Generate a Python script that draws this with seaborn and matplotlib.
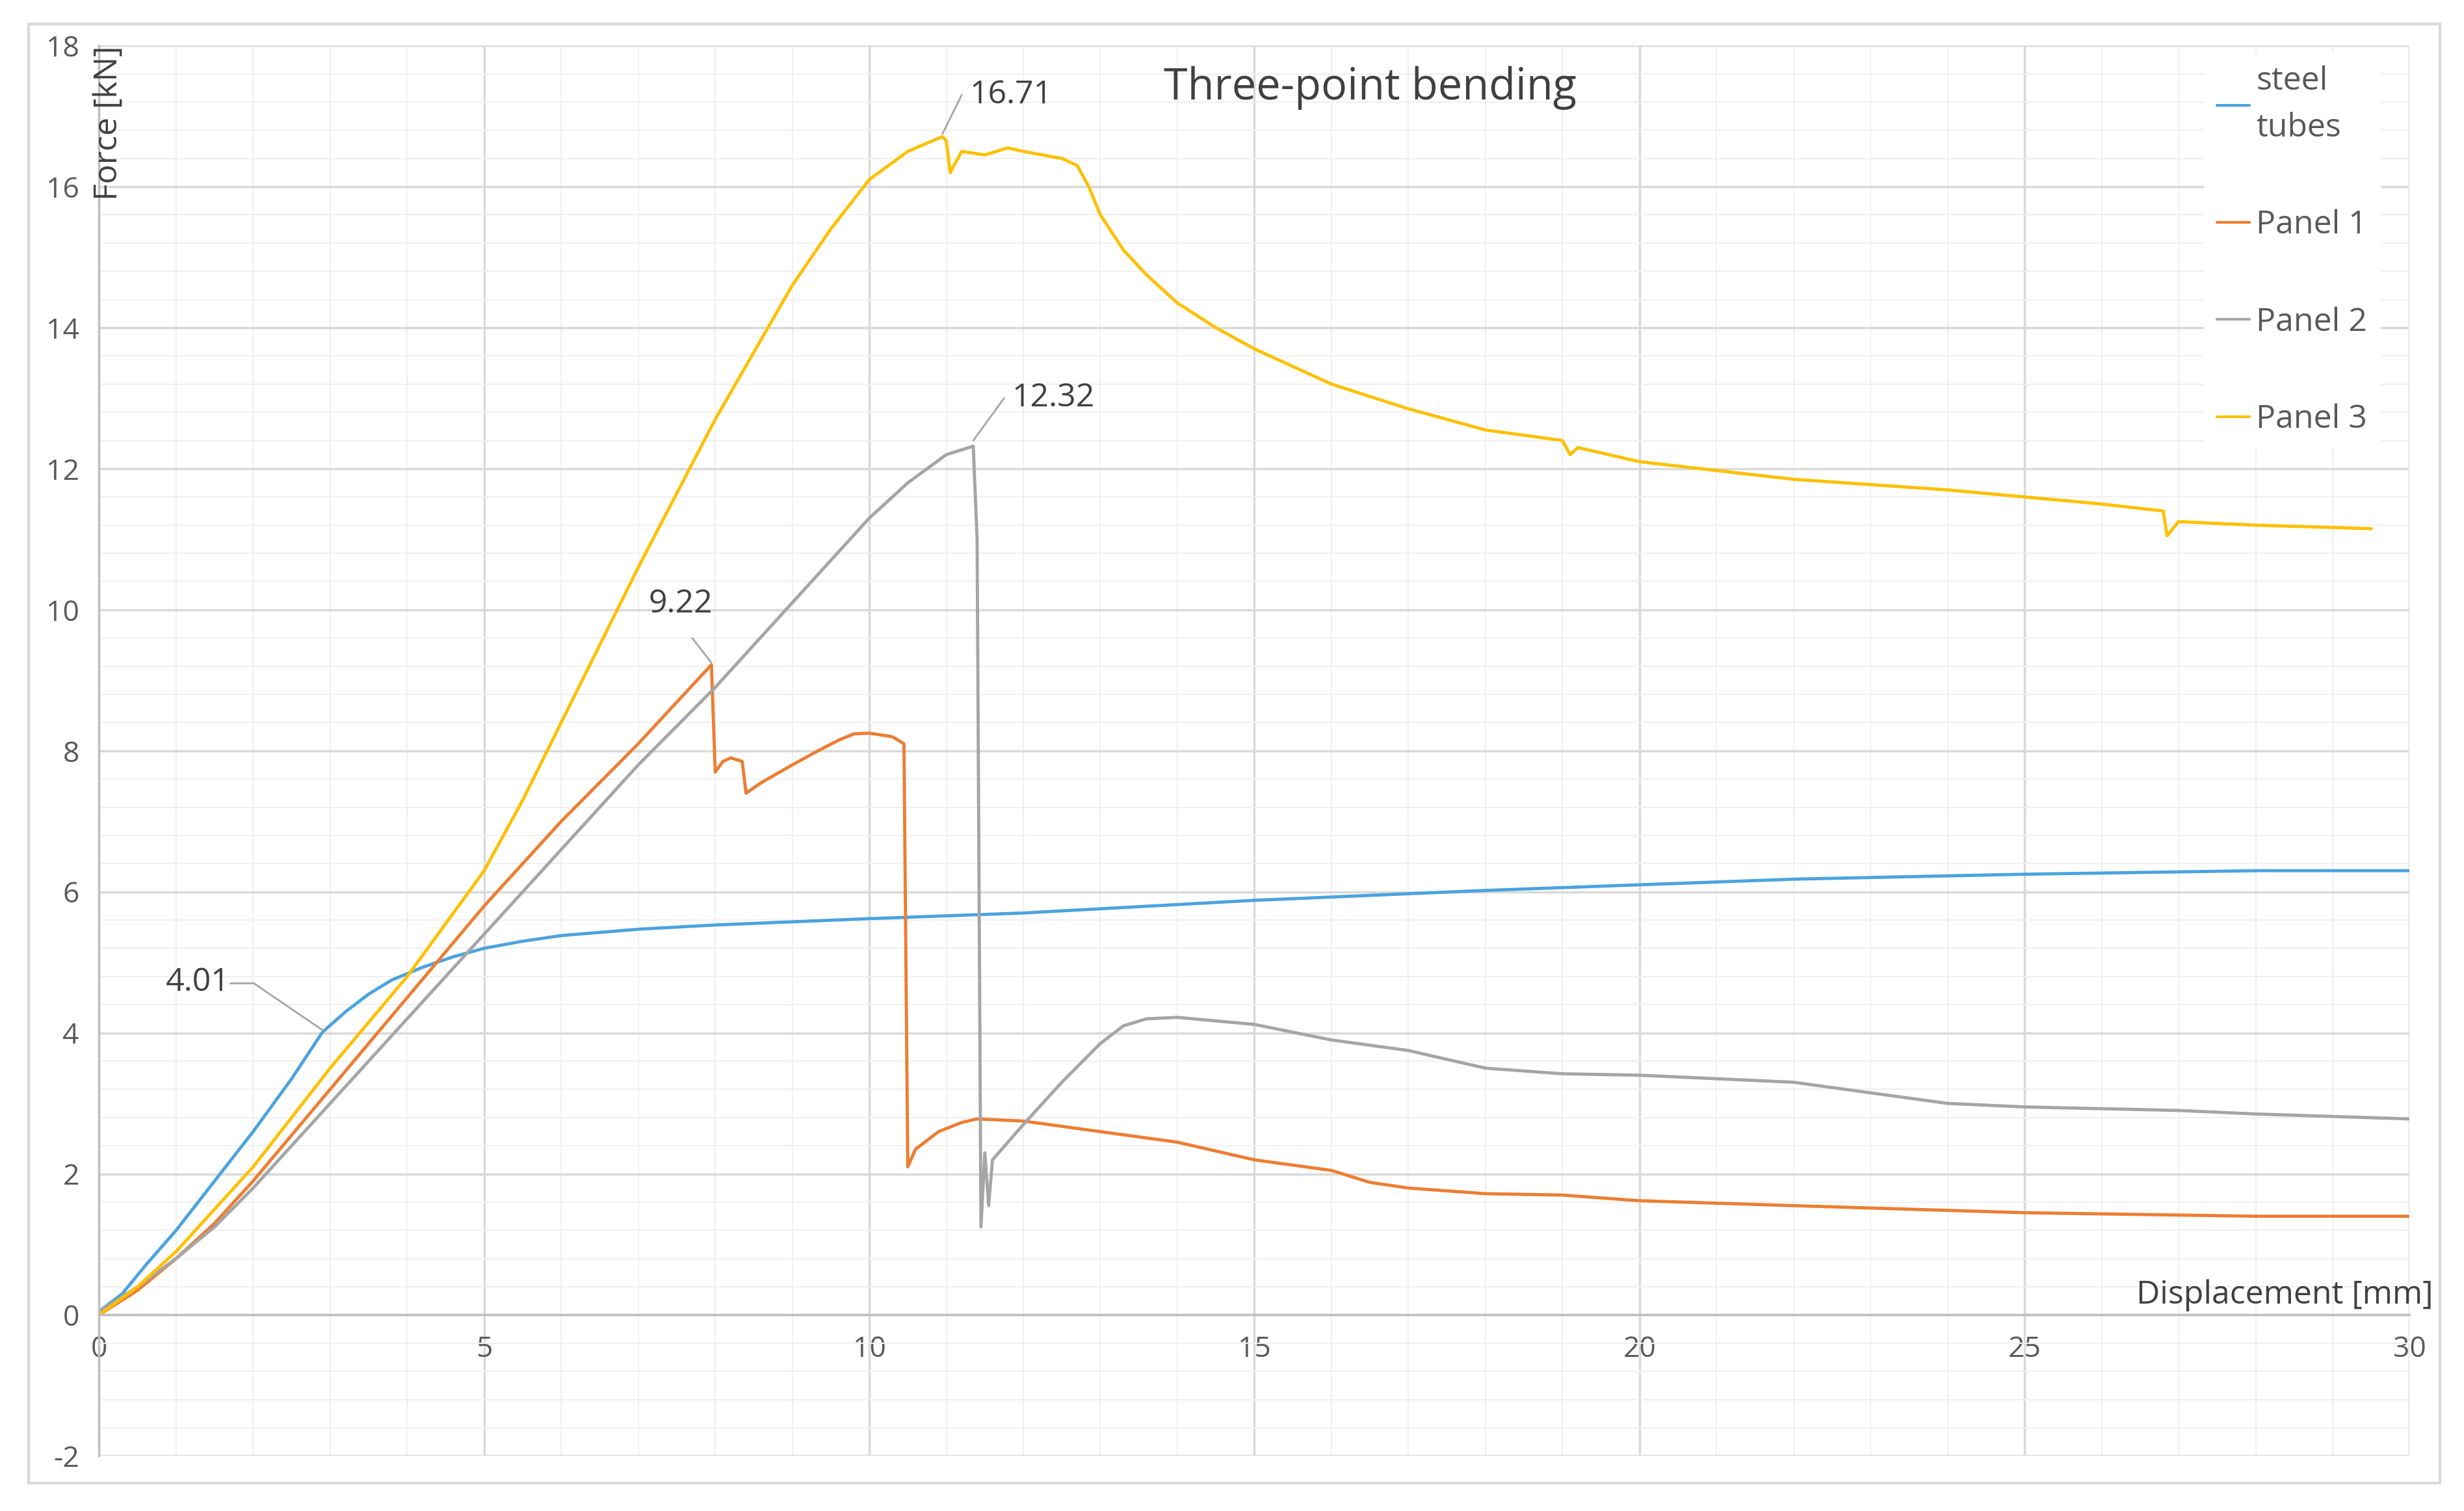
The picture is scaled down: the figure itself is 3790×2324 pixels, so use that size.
import matplotlib
matplotlib.use("Agg")
import matplotlib.pyplot as plt
import seaborn as sns
import pandas as pd
from matplotlib.ticker import MultipleLocator
from matplotlib.lines import Line2D
from matplotlib.patches import Rectangle

sns.set_style("white")
plt.rcParams['font.family'] = ['Open Sans', 'DejaVu Sans']
plt.rcParams['axes.unicode_minus'] = False

steel_x = [0,0.3,0.6,1,1.5,2,2.5,2.9,3.2,3.5,3.8,4.2,4.6,5,5.5,6,7,8,10,12,15,18,20,22,25,28,30]
steel_y = [0.05,0.3,0.7,1.2,1.9,2.6,3.35,4.01,4.3,4.55,4.75,4.93,5.08,5.2,5.3,5.38,5.47,5.53,5.62,5.7,5.88,6.02,6.1,6.18,6.25,6.3,6.3]

p1_x = [0,0.5,1,1.5,2,3,4,5,6,7,7.95,8.0,8.1,8.2,8.35,8.4,8.6,9,9.3,9.6,9.8,10,10.3,10.45,10.5,10.6,10.9,11.2,11.4,12,13,14,15,16,16.5,17,18,19,20,22,25,28,30]
p1_y = [0,0.35,0.8,1.3,1.9,3.2,4.5,5.8,7.0,8.1,9.22,7.7,7.85,7.9,7.85,7.4,7.55,7.8,7.98,8.15,8.24,8.25,8.2,8.1,2.1,2.35,2.6,2.73,2.78,2.75,2.6,2.45,2.2,2.05,1.88,1.8,1.72,1.7,1.62,1.55,1.45,1.4,1.4]

p2_x = [0,0.5,1,1.5,2,3,4,5,6,7,8,9,10,10.5,11,11.35,11.4,11.45,11.5,11.55,11.6,12,12.5,13,13.3,13.6,14,15,16,17,18,19,20,21,22,23,24,25,27,28,30]
p2_y = [0.05,0.4,0.8,1.25,1.8,3.0,4.2,5.4,6.6,7.8,8.9,10.1,11.3,11.8,12.2,12.32,11.0,1.25,2.3,1.55,2.2,2.7,3.3,3.85,4.1,4.2,4.22,4.12,3.9,3.75,3.5,3.42,3.4,3.35,3.3,3.15,3.0,2.95,2.9,2.85,2.78]

p3_x = [0,0.5,1,1.5,2,3,4,5,5.5,6,7,8,9,9.5,10,10.5,10.95,11.0,11.05,11.2,11.5,11.8,12,12.5,12.7,12.85,13,13.3,13.6,14,14.5,15,16,17,18,19,19.1,19.2,20,22,24,26,26.8,26.85,27,28,29.5]
p3_y = [0,0.4,0.9,1.5,2.1,3.5,4.8,6.3,7.3,8.4,10.6,12.7,14.6,15.4,16.1,16.5,16.71,16.65,16.2,16.5,16.45,16.55,16.5,16.4,16.3,16.0,15.6,15.1,14.75,14.35,14.0,13.7,13.2,12.85,12.55,12.4,12.2,12.3,12.1,11.85,11.7,11.5,11.4,11.05,11.25,11.2,11.15]

series = [("steel\ntubes", steel_x, steel_y, "#4AA3DF"),
          ("Panel 1", p1_x, p1_y, "#ED7D31"),
          ("Panel 2", p2_x, p2_y, "#A5A5A5"),
          ("Panel 3", p3_x, p3_y, "#FFC000")]

fig = plt.figure(figsize=(37.91, 23.24), dpi=100)
ax = fig.add_axes([0.0402, 0.0364, 0.9375, 0.9334])
fig.patches.append(Rectangle((0.0115, 0.0187), 0.9785, 0.9653, transform=fig.transFigure,
                             fill=False, edgecolor="#d9d9d9", linewidth=3))

for name, xs, ys, c in series:
    df = pd.DataFrame({"x": xs, "y": ys})
    sns.lineplot(data=df, x="x", y="y", ax=ax, color=c, linewidth=3.5, sort=False, estimator=None)

ax.set_xlim(0, 30)
ax.set_ylim(-2, 18)
ax.xaxis.set_major_locator(MultipleLocator(5))
ax.xaxis.set_minor_locator(MultipleLocator(1))
ax.yaxis.set_major_locator(MultipleLocator(2))
ax.yaxis.set_minor_locator(MultipleLocator(0.4))
ax.grid(which="major", color="#d9d9d9", linewidth=2.5)
ax.grid(which="minor", color="#f0f0f0", linewidth=1.5)
for s in ["top", "right"]:
    ax.spines[s].set_visible(False)
ax.spines["bottom"].set_position(("data", 0))
ax.spines["bottom"].set_color("#bfbfbf")
ax.spines["left"].set_color("#bfbfbf")
ax.spines["bottom"].set_linewidth(2.5)
ax.spines["left"].set_linewidth(2.5)
ax.tick_params(axis="both", which="both", length=0, labelsize=32, labelcolor="#595959", pad=22)
ax.set_xlabel("")
ax.set_ylabel("")

ax.text(0.12, 18, "Force [kN]", rotation=90, fontsize=36, color="#404040", va="top", ha="center")
ax.text(30.3, 0.05, "Displacement [mm]", fontsize=36, color="#404040", ha="right", va="bottom")
ax.text(16.5, 17.4, "Three-point bending", fontsize=48, color="#404040", ha="center", va="center")

ann = [("16.71", (10.95, 16.75), (11.2, 17.3), (11.3, 17.3)),
       ("12.32", (11.35, 12.4), (11.75, 13.0), (11.85, 13.0)),
       ("9.22", (7.95, 9.25), (7.7, 9.6), (7.55, 9.85)),
       ("4.01", (2.9, 4.04), (2.0, 4.71), (1.7, 4.71))]
for txt, pt, elbow, lab in ann:
    ax.plot([pt[0], elbow[0]], [pt[1], elbow[1]], color="#A5A5A5", linewidth=2)
    ha = "left" if lab[0] > elbow[0] else ("right" if lab[0] < elbow[0] - 0.2 else "center")
    va = "center" if ha != "center" else "bottom"
    if txt == "4.01":
        ax.plot([elbow[0], lab[0]], [elbow[1], lab[1]], color="#A5A5A5", linewidth=2)
    ax.text(lab[0], lab[1], txt, fontsize=36, color="#404040", ha=ha, va=va)

handles = [Line2D([0], [0], color=c, linewidth=3) for _, _, _, c in series]
labels = [n for n, _, _, _ in series]
leg = ax.legend(handles, labels, loc="upper right", bbox_to_anchor=(0.99, 1.0), frameon=True,
                fontsize=36, labelspacing=2.0, handlelength=1.0, handletextpad=0.2,
                borderaxespad=0.2, labelcolor="#595959")
for t in leg.get_texts():
    t.set_linespacing(1.6)
leg.get_frame().set_edgecolor("white")
leg.get_frame().set_alpha(1)

fig.savefig("out.png", dpi=100, facecolor="white")
